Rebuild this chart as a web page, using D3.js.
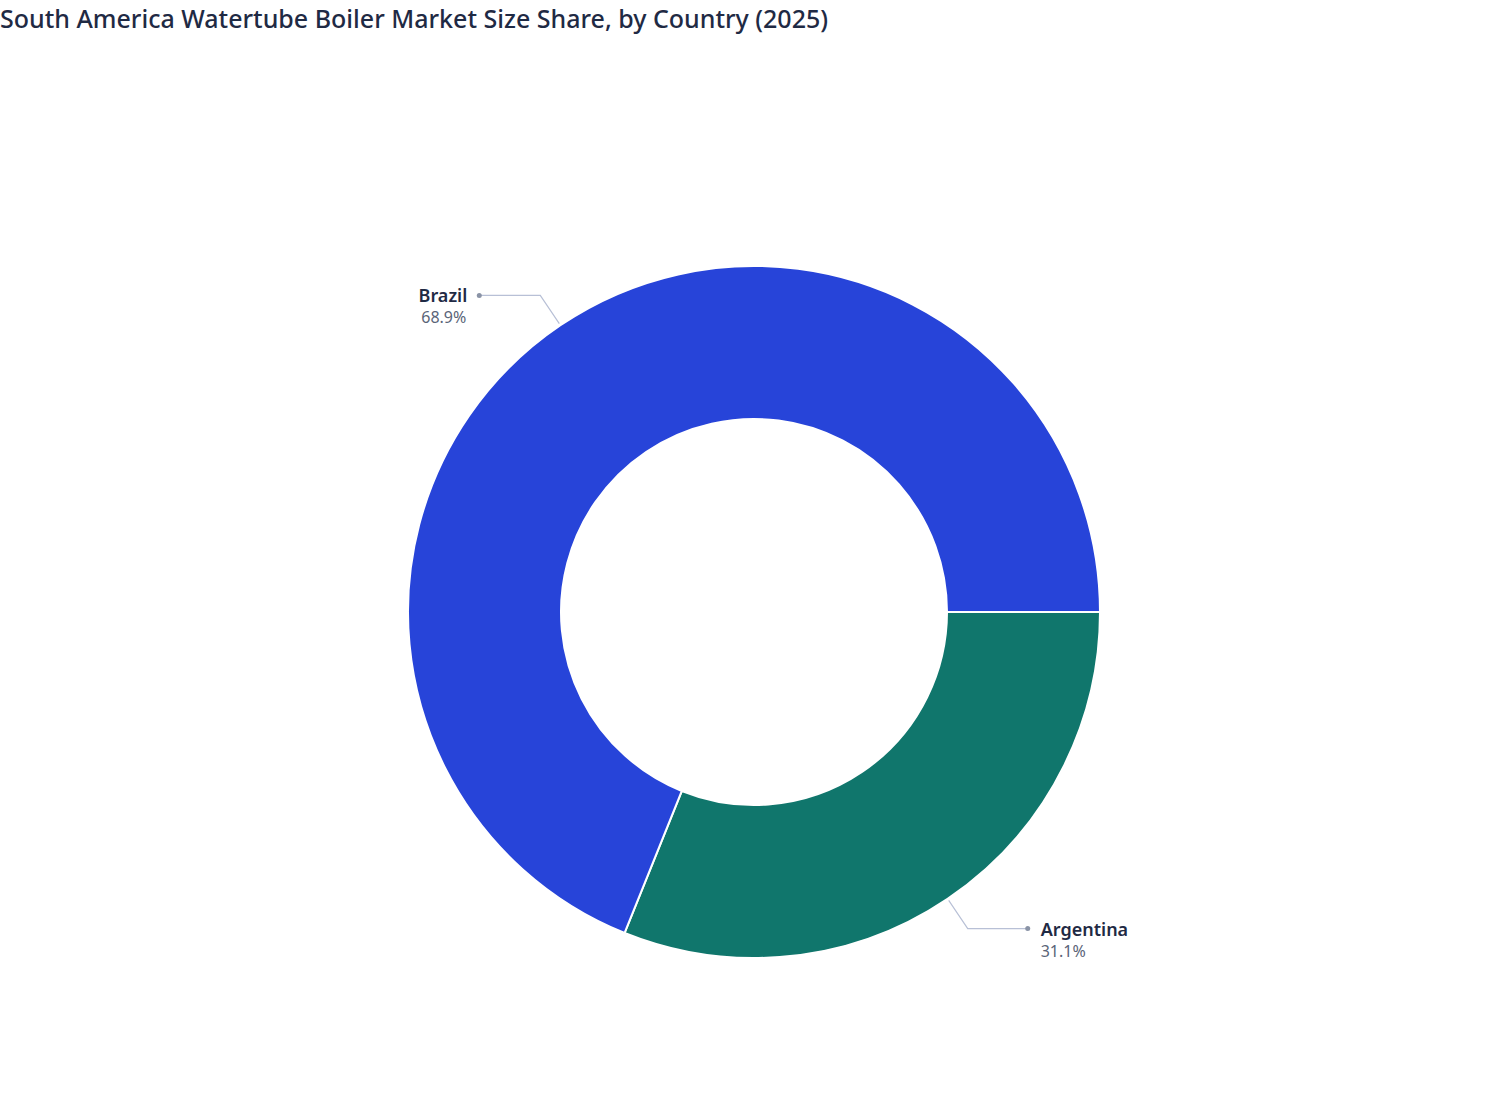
<!DOCTYPE html>
<html><head><meta charset="utf-8">
<script src="https://cdn.jsdelivr.net/npm/d3@7"></script>
<style>body{margin:0;background:#fff;font-family:"Noto Sans","Open Sans",sans-serif;}</style>
</head><body><svg id="c" width="1508" height="1120"></svg>
<script>
const countries = ["Argentina", "Brazil"];
const shares = [31.1, 68.9];
const colors = ["#10766c", "#2744d9"];
const title = "South America Watertube Boiler Market Size Share, by Country (2025)";

const svg = d3.select("#c");
svg.append("text").attr("x", 0).attr("y", 28).attr("font-size", 25).attr("font-weight", 500)
  .attr("fill", "#1f2a44").text(title);

const cx = 754, cy = 612, R = 346, r = 193;
const g = svg.append("g").attr("transform", `translate(${cx},${cy})`);
const pie = d3.pie().sort(null).value(d => d.v).startAngle(Math.PI/2).endAngle(Math.PI/2 + 2*Math.PI);
const data = pie(countries.map((c, i) => ({c, v: shares[i], col: colors[i]})));
const arc = d3.arc().innerRadius(r).outerRadius(R);
g.selectAll("path").data(data).join("path").attr("d", arc)
  .attr("fill", d => d.data.col).attr("stroke", "#fff").attr("stroke-width", 2);

data.forEach(d => {
  const a = (d.startAngle + d.endAngle) / 2;
  const p1 = [Math.sin(a) * (R + 2), -Math.cos(a) * (R + 2)];
  const p2 = [Math.sin(a) * 382, -Math.cos(a) * 382];
  const right = Math.sin(a) > 0;
  const p3 = [p2[0] + (right ? 60 : -61), p2[1]];
  g.append("polyline").attr("points", [p1, p2, p3].map(p => p.join(",")).join(" "))
    .attr("fill", "none").attr("stroke", "#b8c0d6").attr("stroke-width", 1.2);
  g.append("circle").attr("cx", p3[0]).attr("cy", p3[1]).attr("r", 2.5).attr("fill", "#8a93a6");
  const tx = p3[0] + (right ? 13 : -12);
  const anchor = right ? "start" : "end";
  g.append("text").attr("x", tx).attr("y", p3[1] + 7).attr("text-anchor", anchor)
    .attr("font-size", 18).attr("font-weight", 600).attr("fill", "#1f2a44").text(d.data.c);
  g.append("text").attr("x", right ? tx : tx - 1 - (right ? 0 : 0)).attr("y", p3[1] + 28)
    .attr("text-anchor", anchor).attr("font-size", 16).attr("fill", "#5a6478")
    .text(d.data.v.toFixed(1) + "%");
});
</script></body></html>
